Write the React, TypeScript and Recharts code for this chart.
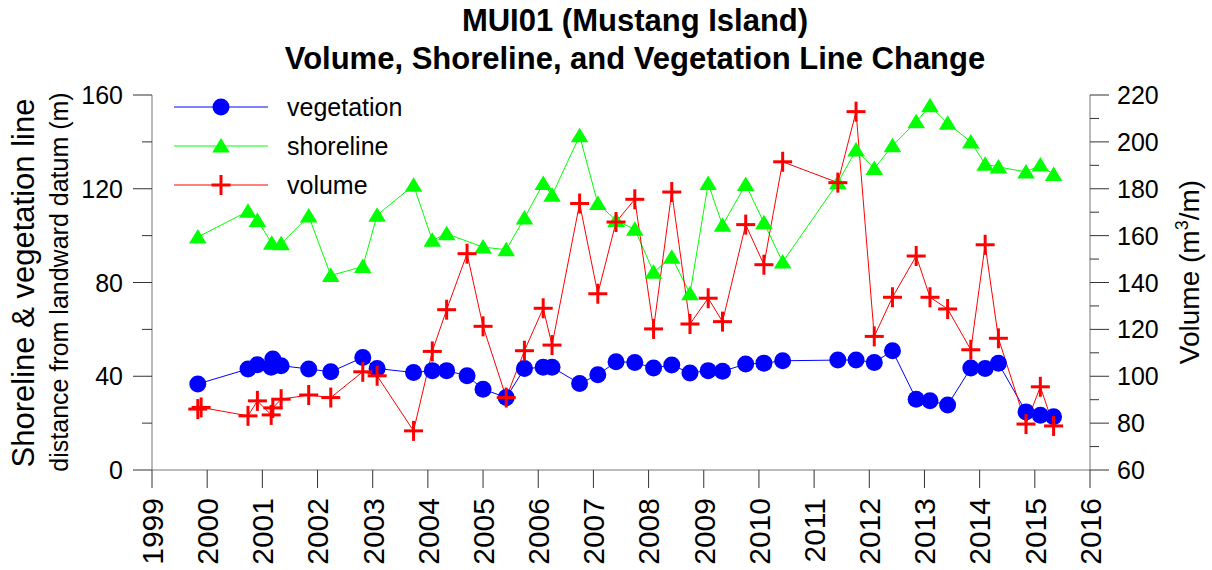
import { Line, LineChart, XAxis, YAxis } from "recharts"

const FONT = "'Liberation Sans', Arial, Helvetica, sans-serif"

// Survey dates (decimal year) and values
const vegYears = [
  1999.83, 2000.74, 2000.91, 2001.16, 2001.19, 2001.34, 2001.84, 2002.24, 2002.82, 2003.08, 2003.74,
  2004.08, 2004.34, 2004.71, 2005.0, 2005.42, 2005.75, 2006.09, 2006.25, 2006.75, 2007.08, 2007.41,
  2007.75, 2008.09, 2008.42, 2008.75, 2009.08, 2009.34, 2009.76, 2010.09, 2010.43, 2011.43, 2011.76,
  2012.09, 2012.42, 2012.85, 2013.1, 2013.42, 2013.84, 2014.1, 2014.34, 2014.84, 2015.1, 2015.34,
]
const vegValues = [
  36.7, 43.1, 44.9, 43.8, 47.4, 44.5, 43.1, 41.9, 48.0, 43.3, 41.6,
  42.4, 42.4, 40.2, 34.5, 30.9, 43.3, 43.8, 43.8, 36.9, 40.6, 46.2,
  45.9, 43.5, 44.8, 41.4, 42.4, 42.1, 45.2, 45.6, 46.6, 46.9, 46.9,
  45.9, 50.9, 30.2, 29.5, 27.7, 43.5, 43.3, 45.5, 24.8, 23.4, 22.7,
]

const shoreYears = [
  1999.83, 2000.74, 2000.91, 2001.17, 2001.34, 2001.84, 2002.24, 2002.82, 2003.08, 2003.74, 2004.08,
  2004.34, 2005.0, 2005.42, 2005.75, 2006.09, 2006.25, 2006.75, 2007.08, 2007.41, 2007.75, 2008.09,
  2008.42, 2008.75, 2009.08, 2009.34, 2009.76, 2010.09, 2010.43, 2011.43, 2011.76, 2012.09, 2012.42,
  2012.85, 2013.1, 2013.42, 2013.84, 2014.1, 2014.34, 2014.84, 2015.1, 2015.34,
]
const shoreValues = [
  99.4, 110.4, 106.5, 96.8, 96.5, 108.4, 83.0, 86.8, 108.7, 121.5, 98.0,
  100.8, 95.1, 94.0, 107.5, 122.2, 117.2, 142.6, 113.7, 106.5, 102.7, 84.4,
  90.8, 75.2, 122.2, 104.4, 121.8, 105.5, 88.7, 122.6, 136.5, 128.6, 138.3,
  148.6, 155.4, 147.9, 140.0, 130.5, 129.3, 127.2, 130.1, 126.1,
]

const volYears = [
  1999.83, 1999.89, 2000.74, 2000.91, 2001.16, 2001.19, 2001.34, 2001.84, 2002.24, 2002.82, 2003.08,
  2003.74, 2004.08, 2004.34, 2004.71, 2005.0, 2005.42, 2005.75, 2006.09, 2006.25, 2006.75, 2007.08,
  2007.41, 2007.75, 2008.09, 2008.42, 2008.75, 2009.08, 2009.34, 2009.76, 2010.09, 2010.43, 2011.43,
  2011.76, 2012.09, 2012.42, 2012.85, 2013.1, 2013.42, 2013.84, 2014.1, 2014.34, 2014.84, 2015.1, 2015.34,
]
const volValues = [
  86.0, 86.7, 83.1, 89.5, 83.5, 86.5, 90.2, 92.0, 90.9, 101.9, 100.2,
  76.7, 110.6, 128.4, 152.3, 121.3, 90.9, 110.9, 129.0, 113.3, 173.7, 135.2,
  165.8, 175.5, 120.2, 178.6, 122.3, 133.3, 123.3, 164.7, 147.6, 191.5, 182.6,
  212.9, 117.0, 133.7, 151.3, 133.7, 128.7, 111.3, 156.1, 116.2, 79.6, 95.5, 78.8,
]

const yearTicks = [1999, 2000, 2001, 2002, 2003, 2004, 2005, 2006, 2007, 2008, 2009, 2010, 2011, 2012, 2013, 2014, 2015, 2016]
const leftTicks = [0, 20, 40, 60, 80, 100, 120, 140, 160]
const rightTicks = [60, 70, 80, 90, 100, 110, 120, 130, 140, 150, 160, 170, 180, 190, 200, 210, 220]

const vegData = vegYears.map((t, i) => ({ t, v: vegValues[i] }))
const shoreData = shoreYears.map((t, i) => ({ t, v: shoreValues[i] }))
const volData = volYears.map((t, i) => ({ t, v: volValues[i] }))

const BLUE = "#0000ff"
const GREEN = "#00ff00"
const RED = "#ff0000"
const TICK = "#333"
const AXIS = "#777"

function circleMark(cx: number, cy: number, key?: string | number) {
  return <circle key={key} cx={cx} cy={cy} r={8.5} fill={BLUE} />
}
function triangleMark(cx: number, cy: number, key?: string | number) {
  return <path key={key} d={`M${cx},${cy - 8} L${cx + 8.8},${cy + 6.5} L${cx - 8.8},${cy + 6.5} Z`} fill={GREEN} />
}
function crossMark(cx: number, cy: number, key?: string | number) {
  return (
    <g key={key}>
      <line x1={cx - 9.5} y1={cy} x2={cx + 9.5} y2={cy} stroke={RED} strokeWidth={3} />
      <line x1={cx} y1={cy - 10} x2={cx} y2={cy + 10} stroke={RED} strokeWidth={3} />
    </g>
  )
}

const LeftTick = (props: any) => {
  const { x, y, payload } = props
  const major = payload.value % 40 === 0
  return (
    <g>
      <line x1={x} y1={y} x2={x - (major ? 19 : 10)} y2={y} stroke={TICK} />
      {major && (
        <text x={x - 29} y={y} dy="0.36em" textAnchor="end" fontSize={25} fontFamily={FONT} fill="#000">
          {payload.value}
        </text>
      )}
    </g>
  )
}

const RightTick = (props: any) => {
  const { x, y, payload } = props
  const major = payload.value % 20 === 0
  return (
    <g>
      <line x1={x} y1={y} x2={x + (major ? 19 : 9)} y2={y} stroke={TICK} />
      {major && (
        <text x={x + 27} y={y} dy="0.36em" textAnchor="start" fontSize={25} fontFamily={FONT} fill="#000">
          {payload.value}
        </text>
      )}
    </g>
  )
}

const BottomTick = (props: any) => {
  const { x, y, payload } = props
  return (
    <g>
      <line x1={x} y1={y} x2={x} y2={y + 18} stroke={TICK} />
      <text
        transform={`translate(${x},${y + 28}) rotate(-90)`}
        dy="0.36em"
        textAnchor="end"
        fontSize={30}
        fontFamily={FONT}
        fill="#000"
      >
        {payload.value}
      </text>
    </g>
  )
}

const legendRows = [
  { name: "vegetation", color: BLUE, mark: circleMark },
  { name: "shoreline", color: GREEN, mark: triangleMark },
  { name: "volume", color: RED, mark: crossMark },
]

export default function App() {
  return (
    <div style={{ position: "absolute", left: 0, top: 0, width: 1212, height: 570, background: "#fff" }}>
      <LineChart width={1212} height={570} margin={{ top: 95, right: 0, bottom: 0, left: 0 }}>
        <XAxis
          dataKey="t"
          type="number"
          domain={[1999, 2016]}
          ticks={yearTicks}
          interval={0}
          allowDataOverflow
          height={100}
          tickSize={0}
          tickMargin={0}
          tickLine={false}
          axisLine={{ stroke: AXIS }}
          tick={<BottomTick />}
        />
        <YAxis
          yAxisId="left"
          orientation="left"
          domain={[0, 160]}
          ticks={leftTicks}
          interval={0}
          width={152}
          tickSize={0}
          tickMargin={0}
          tickLine={false}
          axisLine={{ stroke: AXIS }}
          tick={<LeftTick />}
        />
        <YAxis
          yAxisId="right"
          orientation="right"
          domain={[60, 220]}
          ticks={rightTicks}
          interval={0}
          width={122}
          tickSize={0}
          tickMargin={0}
          tickLine={false}
          axisLine={{ stroke: AXIS }}
          tick={<RightTick />}
        />
        <Line
          yAxisId="left"
          data={vegData}
          dataKey="v"
          name="vegetation"
          stroke={BLUE}
          strokeWidth={1}
          dot={(p: any) => circleMark(p.cx, p.cy, `v${p.index}`)}
          activeDot={false}
          isAnimationActive={false}
        />
        <Line
          yAxisId="left"
          data={shoreData}
          dataKey="v"
          name="shoreline"
          stroke={GREEN}
          strokeWidth={1}
          dot={(p: any) => triangleMark(p.cx, p.cy, `s${p.index}`)}
          activeDot={false}
          isAnimationActive={false}
        />
        <Line
          yAxisId="right"
          data={volData}
          dataKey="v"
          name="volume"
          stroke={RED}
          strokeWidth={1}
          dot={(p: any) => crossMark(p.cx, p.cy, `c${p.index}`)}
          activeDot={false}
          isAnimationActive={false}
        />
        {/* legend, top left of the plot */}
        <g>
          {legendRows.map((row, i) => {
            const y = 107 + i * 39
            return (
              <g key={row.name}>
                <line x1={174} y1={y} x2={268} y2={y} stroke={row.color} strokeWidth={1} />
                {row.mark(221, y)}
                <text x={287} y={y} dy="0.36em" fontSize={25} fontFamily={FONT} fill="#000">
                  {row.name}
                </text>
              </g>
            )
          })}
        </g>
        <text x={635} y={31} textAnchor="middle" fontSize={31} fontWeight="bold" fontFamily={FONT} fill="#000">
          MUI01 (Mustang Island)
        </text>
        <text x={635} y={69} textAnchor="middle" fontSize={31} fontWeight="bold" fontFamily={FONT} fill="#000">
          Volume, Shoreline, and Vegetation Line Change
        </text>
        <text transform="translate(34,283) rotate(-90)" textAnchor="middle" fontSize={31} fontFamily={FONT} fill="#000">
          Shoreline &amp; vegetation line
        </text>
        <text transform="translate(68,282) rotate(-90)" textAnchor="middle" fontSize={25} fontFamily={FONT} fill="#000">
          distance from landward datum (m)
        </text>
        <text transform="translate(1199,272) rotate(-90)" textAnchor="middle" fontSize={28} fontFamily={FONT} fill="#000">
          Volume (m<tspan fontSize={18} dy={-11}>3</tspan>
          <tspan dy={11}>/m)</tspan>
        </text>
      </LineChart>
    </div>
  )
}
